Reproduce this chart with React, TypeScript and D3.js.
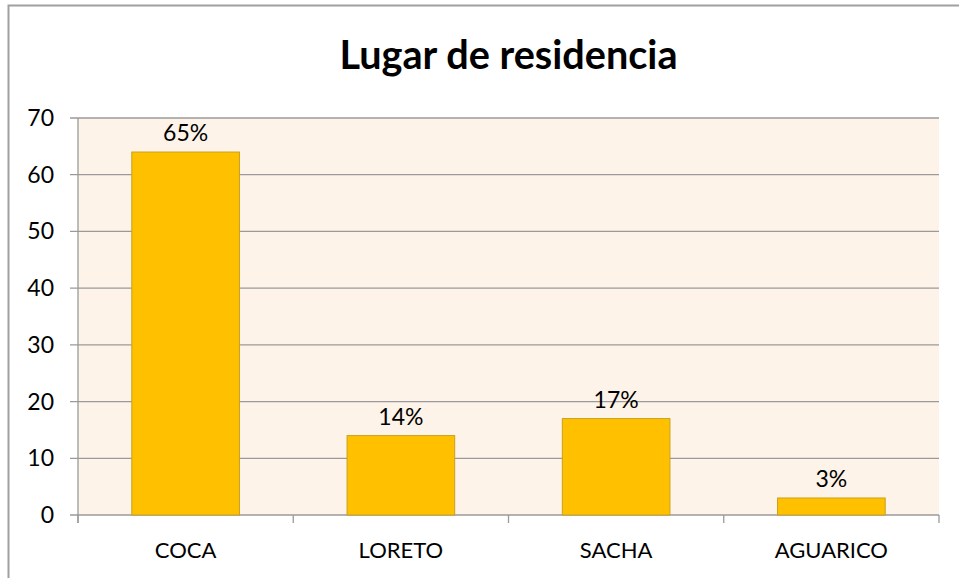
import React from "react";
import * as d3 from "d3";

const categories = ["COCA", "LORETO", "SACHA", "AGUARICO"];
const values = [64, 14, 17, 3];
const labels = ["65%", "14%", "17%", "3%"];
const yTicks = [0, 10, 20, 30, 40, 50, 60, 70];
const title = "Lugar de residencia";

const W = 959;
const H = 578;
const M = { left: 78, right: 939, top: 118, bottom: 515 };
const FONT = "Lato, 'Open Sans', sans-serif";

export default function App() {
  const x = d3.scaleBand<string>().domain(categories).range([M.left, M.right]).paddingInner(0.5).paddingOuter(0.25);
  const xb = d3.scaleBand<string>().domain(categories).range([M.left, M.right]);
  const y = d3.scaleLinear().domain([0, 70]).range([M.bottom, M.top]);
  const boundaries = [...categories.map((c) => xb(c) as number), M.right];
  return (
    <svg width={W} height={H} style={{ position: "absolute", left: 0, top: 0, background: "#fff" }}>
      <rect x={8.5} y={5.5} width={W + 20} height={H + 20} fill="#fff" stroke="#a0a0a0" strokeWidth={2} />
      <text x={(M.left + M.right) / 2} y={69} textAnchor="middle" fontFamily={FONT} fontWeight="bold" fontSize={40} fill="#000" textLength={338} lengthAdjust="spacingAndGlyphs">
        {title}
      </text>
      <rect x={M.left} y={M.top} width={M.right - M.left} height={M.bottom - M.top} fill="#fef3e8" />
      {yTicks.map((t) => (
        <g key={t}>
          <line x1={70} x2={M.right} y1={y(t)} y2={y(t)} stroke="#9a9a9a" strokeWidth={1.3} />
          <text x={54} y={y(t) + 8} textAnchor="end" fontFamily={FONT} fontSize={23} fill="#000">
            {t}
          </text>
        </g>
      ))}
      <line x1={M.left} x2={M.left} y1={M.top} y2={M.bottom + 8} stroke="#9a9a9a" strokeWidth={1.3} />
      {boundaries.map((b, i) => (
        <line key={i} x1={b} x2={b} y1={M.bottom} y2={M.bottom + 8} stroke="#9a9a9a" strokeWidth={1.3} />
      ))}
      {categories.map((c, i) => (
        <g key={c}>
          <rect x={x(c)} y={y(values[i])} width={x.bandwidth()} height={M.bottom - y(values[i])} fill="#ffc000" stroke="#c9a01a" strokeWidth={1} />
          <text x={(x(c) as number) + x.bandwidth() / 2} y={y(values[i]) - 11} textAnchor="middle" fontFamily={FONT} fontSize={23} fill="#000">
            {labels[i]}
          </text>
          <text x={(xb(c) as number) + xb.bandwidth() / 2} y={558} textAnchor="middle" fontFamily={FONT} fontSize={22} fill="#000">
            {c}
          </text>
        </g>
      ))}
    </svg>
  );
}
